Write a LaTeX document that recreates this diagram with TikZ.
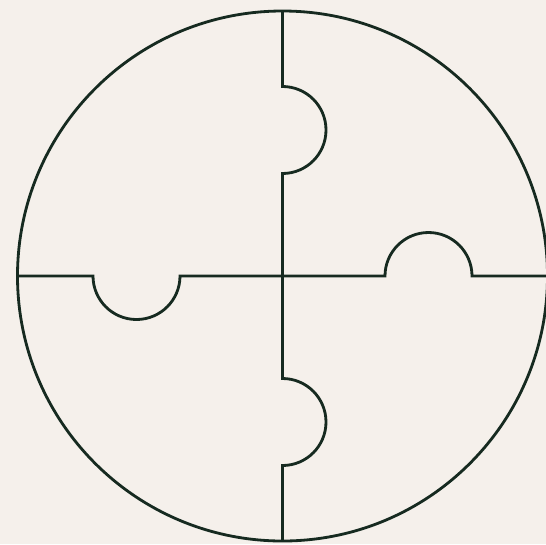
\documentclass[tikz,border=0pt]{standalone}
\usepackage{tikz}
\definecolor{paper}{RGB}{245,240,235}
\definecolor{ink}{RGB}{22,42,32}

\begin{document}
\begin{tikzpicture}[every path/.style={}, piece/.style={draw=ink, line width=1.6pt, line join=miter}]
		% background and frame
		\fill[paper] (0,0) rectangle (10.92,-10.88);
		\useasboundingbox (0,0) rectangle (10.92,-10.88);
		
		\coordinate (c) at (5.65,-5.52);
		
		% outer circle
		\draw[piece] (c) circle (5.3);
		
		% vertical cut with two tabs
		\draw[piece] (5.65,-0.22) -- (5.65,-1.73) arc (90:-90:0.87)
			-- (5.65,-7.57) arc (90:-90:0.87) -- (5.65,-10.82);
		
		% horizontal cut with two tabs
		\draw[piece] (0.35,-5.52) -- (1.86,-5.52) arc (180:360:0.87)
			-- (7.70,-5.52) arc (180:0:0.87) -- (10.95,-5.52);
	\end{tikzpicture}
\end{document}
